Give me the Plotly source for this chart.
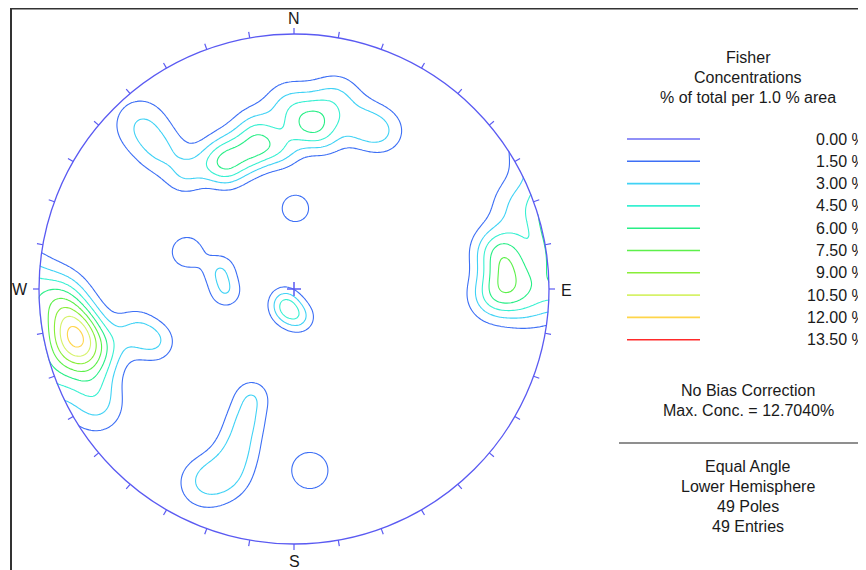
import numpy as np
import plotly.graph_objects as go

# ---------------- data: 49 poles (trend / plunge, degrees) ----------------
pole_trend = [260.7, 259.0, 258.7, 254.7, 266.5, 253.3, 246.4, 268.3, 238.9, 252.4,
              255.5, 249.0,
              219.8, 197.7, 168.3,
              284.4, 267.5, 289.1,
              1.0, 175.0,
              205.2, 199.6, 199.4, 200.2, 201.3,
              316.0, 317.0, 327.8, 335.3, 341.4, 347.5, 330.6, 346.4, 2.8, 7.2,
              11.1, 358.1, 355.1, 316.5, 12.4, 21.9, 29.3,
              80.1, 85.5, 90.8, 79.0, 92.7, 92.3, 69.4]
pole_plunge = [7.7, 8.4, 7.1, 3.8, 5.3, 8.6, 7.8, 3.9, 6.2, 13.4,
               24.4, 29.8,
               83.0, 79.7, 76.8,
               56.6, 60.1, 42.1,
               55.0, 19.1,
               10.1, 14.8, 23.1, 31.9, 41.1,
               15.7, 7.0, 29.0, 28.1, 33.1, 29.9, 34.4, 24.0, 25.4, 21.3,
               27.1, 18.0, 32.6, 26.3, 15.0, 20.5, 19.6,
               9.7, 9.3, 11.3, 12.7, 4.4, 14.9, 3.7]

levels = [0.0, 1.5, 3.0, 4.5, 6.0, 7.5, 9.0, 10.5, 12.0, 13.5]
level_labels = ["0.00 %", "1.50 %", "3.00 %", "4.50 %", "6.00 %", "7.50 %",
                "9.00 %", "10.50 %", "12.00 %", "13.50 %"]
level_colors = ["#6b6bf5", "#3d6ff5", "#40d2f5", "#38f0d2", "#28ee86", "#5cf04a",
                "#88ee38", "#d6f26a", "#ffd54a", "#ff2a2a"]

title_lines = ["Fisher", "Concentrations", "% of total per 1.0 % area"]
info_lines_1 = ["No Bias Correction", "Max. Conc. = 12.7040%"]
info_lines_2 = ["Equal Angle", "Lower Hemisphere", "49 Poles", "49 Entries"]

KAPPA = 130.0
N = len(pole_trend)

# ---------------- geometry (screen pixels) ----------------
CX, CY, R = 294.0, 289.0, 255.0
W, H = 866, 570
OFF = 8  # page body margin
FONT = "Liberation Sans, Arial, sans-serif"
TXT = "#1a1a1a"
NET = "#5a5af2"

# ---------------- density grid (equal-angle, lower hemisphere) ----------------
step = 2.0
gx = np.arange(CX - R - 16, CX + R + 16 + 0.01, step)
gy = np.arange(CY - R - 16, CY + R + 16 + 0.01, step)
X, Y = np.meshgrid(gx, gy)
dx = X - CX
dn = CY - Y
rho = np.hypot(dx, dn) / R
phi = 2 * np.arctan(rho)
az = np.arctan2(dx, dn)
ve = np.sin(phi) * np.sin(az)
vn = np.sin(phi) * np.cos(az)
vd = np.cos(phi)
tr = np.radians(pole_trend)
pl = np.radians(pole_plunge)
pe = np.cos(pl) * np.sin(tr)
pn = np.cos(pl) * np.cos(tr)
pd = np.sin(pl)
c = ve[..., None] * pe + vn[..., None] * pn + vd[..., None] * pd
dens = KAPPA / N * np.exp(KAPPA * (np.abs(c) - 1.0)).sum(axis=-1)
dens = np.round(dens, 3)
dens[rho > 1.06] = np.nan

cscale = [[(lv - 1.5) / 12.0, col] for lv, col in zip(levels[1:], level_colors[1:])]

fig = go.Figure()
fig.add_trace(go.Contour(
    x=gx, y=gy, z=dens,
    contours=dict(start=1.5, end=13.5, size=1.5, coloring="lines"),
    colorscale=cscale, showscale=False,
    line=dict(width=1.1), hoverinfo="skip",
))

shapes = []
m = R + 10
shapes.append(dict(type="circle", xref="x", yref="y", x0=CX - m, x1=CX + m,
                   y0=CY - m, y1=CY + m, line=dict(color="white", width=19)))
shapes.append(dict(type="circle", xref="x", yref="y", x0=CX - R, x1=CX + R,
                   y0=CY - R, y1=CY + R, line=dict(color=NET, width=1.3)))
for a in range(0, 360, 10):
    t = np.radians(a)
    L = 6
    shapes.append(dict(type="line", xref="x", yref="y",
                       x0=CX + R * np.sin(t), y0=CY - R * np.cos(t),
                       x1=CX + (R + L) * np.sin(t), y1=CY - (R + L) * np.cos(t),
                       line=dict(color=NET, width=1.2)))
shapes.append(dict(type="line", xref="x", yref="y", x0=CX - 7, x1=CX + 7, y0=CY, y1=CY,
                   line=dict(color=NET, width=1.5)))
shapes.append(dict(type="line", xref="x", yref="y", x0=CX, x1=CX, y0=CY - 7, y1=CY + 7,
                   line=dict(color=NET, width=1.5)))
shapes.append(dict(type="line", xref="x", yref="y", x0=11, x1=11, y0=8, y1=H + 10,
                   line=dict(color="#333333", width=2)))
shapes.append(dict(type="line", xref="x", yref="y", x0=11, x1=W + 10, y0=8.5, y1=8.5,
                   line=dict(color="#333333", width=2)))
leg_y0, leg_dy = 139.0, 22.3
for i, col in enumerate(level_colors):
    yy = leg_y0 + i * leg_dy
    shapes.append(dict(type="line", xref="x", yref="y", x0=627, x1=700, y0=yy, y1=yy,
                       line=dict(color=col, width=1.6)))
shapes.append(dict(type="line", xref="x", yref="y", x0=619, x1=W + 10, y0=443, y1=443,
                   line=dict(color="#6a6a6a", width=1.5)))

ann = []
def txt(x, y, s, xa="center"):
    ann.append(dict(x=x, y=y, xref="x", yref="y", text=s, showarrow=False,
                    xanchor=xa, yanchor="middle", font=dict(family=FONT, size=16, color=TXT)))

for s, x, y in [("N", CX, 18), ("S", CX, 561), ("W", 20, 289), ("E", 566, 290)]:
    txt(x, y, s)
for i, s in enumerate(title_lines):
    txt(748, 57 + i * 20, s)
for i, s in enumerate(level_labels):
    txt(868, leg_y0 + i * leg_dy, s, xa="right")
for i, s in enumerate(info_lines_1):
    txt(748, 390 + i * 20, s)
for i, s in enumerate(info_lines_2):
    txt(748, 466 + i * 20, s)

fig.update_layout(
    width=W, height=H, margin=dict(l=0, r=0, t=0, b=0),
    paper_bgcolor="white", plot_bgcolor="white",
    xaxis=dict(range=[OFF, W + OFF], visible=False, fixedrange=True),
    yaxis=dict(range=[H + OFF, OFF], visible=False, fixedrange=True),
    shapes=shapes, annotations=ann, showlegend=False,
)
fig.write_html("out.html")
